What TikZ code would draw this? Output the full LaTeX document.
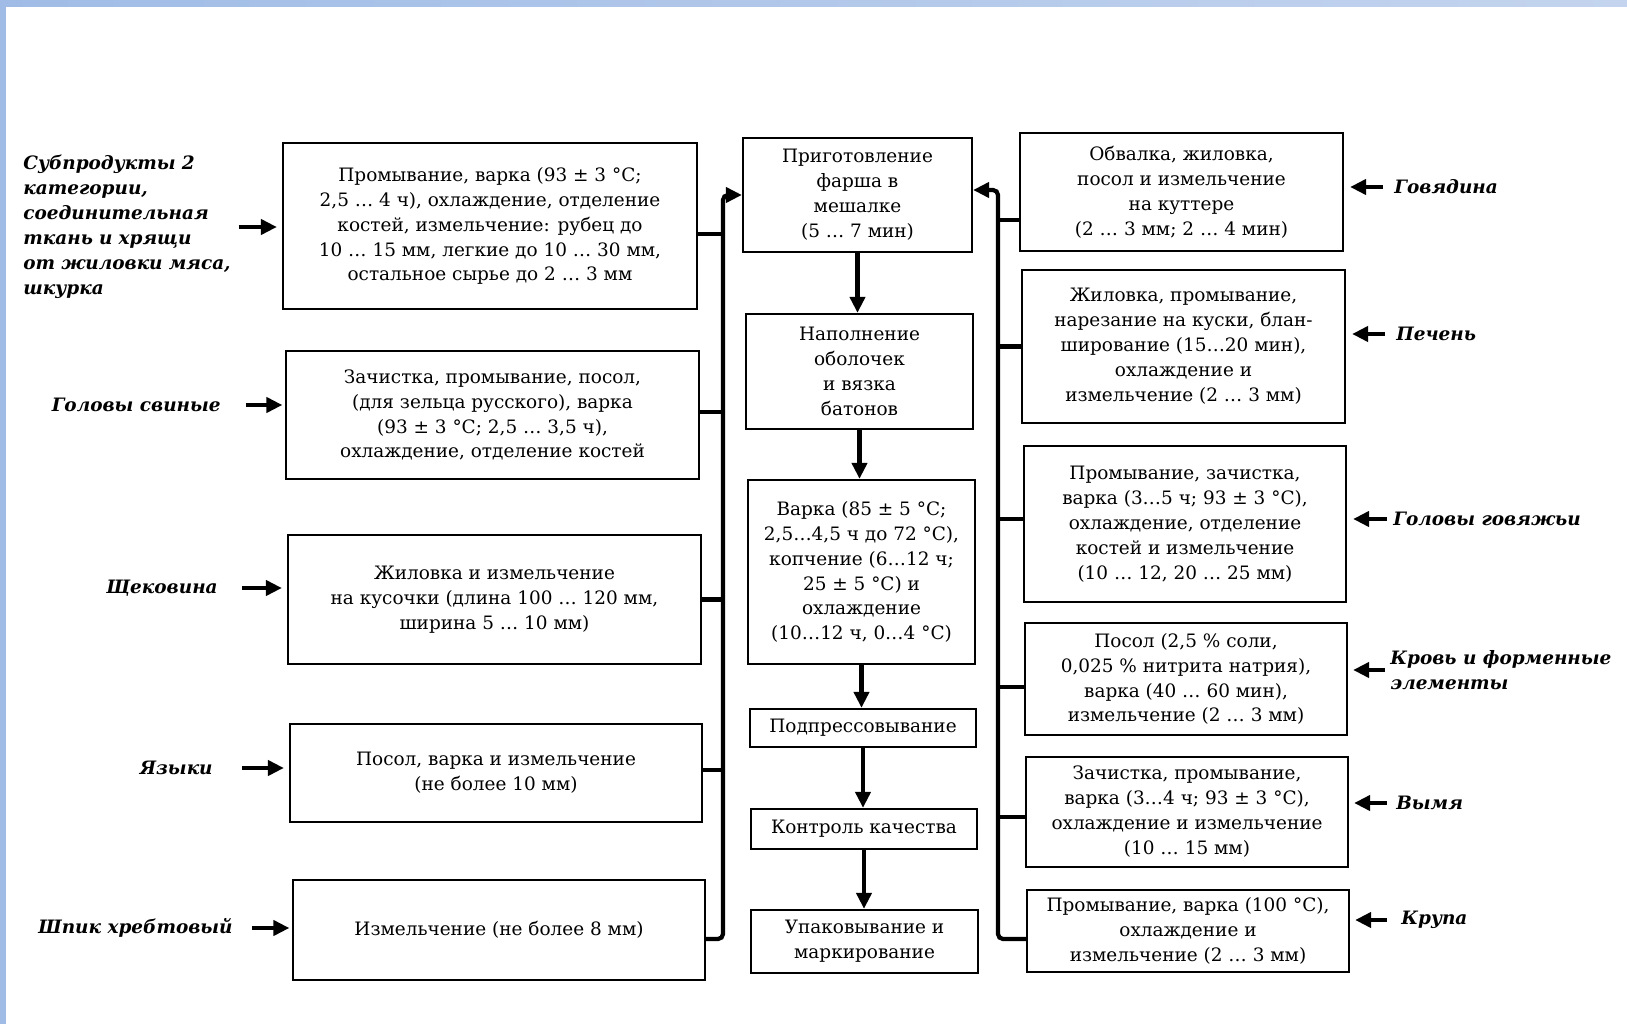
\documentclass[tikz,border=0pt]{standalone}
\usepackage{fontspec}
\setmainfont{DejaVu Serif}
\usetikzlibrary{arrows.meta}
\definecolor{frameblue}{RGB}{160,188,230}
\definecolor{frameblue2}{RGB}{196,212,238}

\begin{document}
\begin{tikzpicture}[x=0.02cm,y=-0.02cm,
box/.style={draw,line width=1.3pt,align=center,inner sep=2pt,font=\fontsize{10.5}{14.2}\selectfont},
src/.style={inner sep=0pt,font=\fontsize{10.5}{14.2}\selectfont\bfseries\itshape},
bus/.style={line width=2.4pt},
flow/.style={line width=2.4pt,-{Triangle[length=0.32cm,width=0.3cm]}},
]
\useasboundingbox (0,0) rectangle (1627,1024);
\fill[white] (0,0) rectangle (1627,1024);
\shade[left color=frameblue,right color=frameblue2] (0,0) rectangle (1627,7);
\fill[frameblue] (0,0) rectangle (6,1024);
\coordinate (lb) at (723,0);
\coordinate (rb) at (998,0);
\node[box,minimum width=8.28cm,minimum height=3.32cm] (L1) at (490,226) {Промывание, варка (93 ± 3 °С;\\2,5 … 4 ч), охлаждение, отделение\\костей, измельчение: рубец до\\10 … 15 мм, легкие до 10 … 30 мм,\\остальное сырье до 2 … 3 мм};
\node[box,minimum width=8.26cm,minimum height=2.56cm] (L2) at (492.5,415) {Зачистка, промывание, посол,\\(для зельца русского), варка\\(93 ± 3 °С; 2,5 … 3,5 ч),\\охлаждение, отделение костей};
\node[box,minimum width=8.26cm,minimum height=2.58cm] (L3) at (494.5,599.5) {Жиловка и измельчение\\на кусочки (длина 100 … 120 мм,\\ширина 5 … 10 мм)};
\node[box,minimum width=8.24cm,minimum height=1.96cm] (L4) at (496,773) {Посол, варка и измельчение\\(не более 10 мм)};
\node[box,minimum width=8.24cm,minimum height=2.0cm] (L5) at (499,930) {Измельчение (не более 8 мм)};
\node[box,minimum width=4.58cm,minimum height=2.28cm] (M1) at (857.5,195) {Приготовление\\фарша в\\мешалке\\(5 … 7 мин)};
\node[box,minimum width=4.54cm,minimum height=2.3cm] (M2) at (859.5,371.5) {Наполнение\\оболочек\\и вязка\\батонов};
\node[box,minimum width=4.54cm,minimum height=3.68cm] (M3) at (861.5,572) {Варка (85 ± 5 °С;\\2,5…4,5 ч до 72 °С),\\копчение (6…12 ч;\\25 ± 5 °С) и\\охлаждение\\(10…12 ч, 0…4 °С)};
\node[box,minimum width=4.52cm,minimum height=0.76cm] (M4) at (863,728) {Подпрессовывание};
\node[box,minimum width=4.52cm,minimum height=0.8cm] (M5) at (864,829) {Контроль качества};
\node[box,minimum width=4.54cm,minimum height=1.26cm] (M6) at (864.5,941.5) {Упаковывание и\\маркирование};
\node[box,minimum width=6.46cm,minimum height=2.36cm] (R1) at (1181.5,192) {Обвалка, жиловка,\\посол и измельчение\\на куттере\\(2 … 3 мм; 2 … 4 мин)};
\node[box,minimum width=6.46cm,minimum height=3.06cm] (R2) at (1183.5,346.5) {Жиловка, промывание,\\нарезание на куски, блан-\\ширование (15…20 мин),\\охлаждение и\\измельчение (2 … 3 мм)};
\node[box,minimum width=6.44cm,minimum height=3.12cm] (R3) at (1185,524) {Промывание, зачистка,\\варка (3…5 ч; 93 ± 3 °С),\\охлаждение, отделение\\костей и измельчение\\(10 … 12, 20 … 25 мм)};
\node[box,minimum width=6.44cm,minimum height=2.24cm] (R4) at (1186,679) {Посол (2,5 \% соли,\\0,025 \% нитрита натрия),\\варка (40 … 60 мин),\\измельчение (2 … 3 мм)};
\node[box,minimum width=6.44cm,minimum height=2.2cm] (R5) at (1187,812) {Зачистка, промывание,\\варка (3…4 ч; 93 ± 3 °С),\\охлаждение и измельчение\\(10 … 15 мм)};
\node[box,minimum width=6.44cm,minimum height=1.64cm] (R6) at (1188,931) {Промывание, варка (100 °С),\\охлаждение и\\измельчение (2 … 3 мм)};
\node[src,anchor=west,align=left,text width=4.3cm] (subpr) at (23,227) {Субпродукты 2\\категории,\\соединительная\\ткань и хрящи\\от жиловки мяса,\\шкурка};
\node[src,anchor=east] (golsvin) at (221,405) {Головы свиные};
\node[src,anchor=east] (shekov) at (218,588) {Щековина};
\node[src,anchor=east] (yazyki) at (213,768) {Языки};
\node[src,anchor=east] (shpik) at (233,928) {Шпик хребтовый};
\node[src,anchor=west] (govyad) at (1394,187) {Говядина};
\node[src,anchor=west] (pechen) at (1396,334) {Печень};
\node[src,anchor=west] (golgov) at (1393,519) {Головы говяжьи};
\node[src,anchor=west,align=left] (krov) at (1390,670) {Кровь и форменные\\элементы};
\node[src,anchor=west] (vymya) at (1396,803) {Вымя};
\node[src,anchor=west] (krupa) at (1401,920) {Крупа};
\draw[flow,shorten >=0.1cm] (subpr.east) -- (subpr.east -| L1.west);
\draw[flow,shorten <=0.5cm,shorten >=0.05cm] (golsvin.east) -- (golsvin.east -| L2.west);
\draw[flow,shorten <=0.48cm,shorten >=0.1cm] (shekov.east) -- (shekov.east -| L3.west);
\draw[flow,shorten <=0.58cm,shorten >=0.1cm] (yazyki.east) -- (yazyki.east -| L4.west);
\draw[flow,shorten <=0.38cm,shorten >=0.05cm] (shpik.east) -- (shpik.east -| L5.west);
\draw[flow,shorten <=0.22cm,shorten >=0.12cm] (govyad.west) -- (govyad.west -| R1.east);
\draw[flow,shorten <=0.22cm,shorten >=0.12cm] (pechen.west) -- (pechen.west -| R2.east);
\draw[flow,shorten <=0.12cm,shorten >=0.12cm] (golgov.west) -- (golgov.west -| R3.east);
\draw[flow,shorten <=0.1cm,shorten >=0.1cm] (krov.west) -- (krov.west -| R4.east);
\draw[flow,shorten <=0.18cm,shorten >=0.1cm] (vymya.west) -- (vymya.west -| R5.east);
\draw[flow,shorten <=0.28cm,shorten >=0.1cm] (krupa.west) -- (krupa.west -| R6.east);
\draw[bus] ([yshift=-0.16cm]L1.east) -- ([yshift=-0.16cm]L1.east -| lb);
\draw[bus] ([yshift=0.06cm]L2.east) -- ([yshift=0.06cm]L2.east -| lb);
\draw[bus] (L3.east) -- (L3.east -| lb);
\draw[bus] ([yshift=0.06cm]L4.east) -- ([yshift=0.06cm]L4.east -| lb);
\draw[flow,rounded corners=0.1cm] ([yshift=-0.18cm]L5.east) -- ([yshift=-0.18cm]L5.east -| lb) -- (M1.west -| lb) -- (M1.west);
\draw[bus] ([yshift=-0.56cm]R1.west) -- ([yshift=-0.56cm]R1.west -| rb);
\draw[bus] (R2.west) -- (R2.west -| rb);
\draw[bus] ([yshift=0.1cm]R3.west) -- ([yshift=0.1cm]R3.west -| rb);
\draw[bus] ([yshift=-0.16cm]R4.west) -- ([yshift=-0.16cm]R4.west -| rb);
\draw[bus] ([yshift=-0.1cm]R5.west) -- ([yshift=-0.1cm]R5.west -| rb);
\draw[flow,rounded corners=0.1cm] ([yshift=-0.16cm]R6.west) -- ([yshift=-0.16cm]R6.west -| rb) -- ([yshift=0.1cm]M1.east -| rb) -- ([yshift=0.1cm]M1.east);
\draw[flow] (M1.south) -- (M1.south |- M2.north);
\draw[flow] (M2.south) -- (M2.south |- M3.north);
\draw[flow] (M3.south) -- (M3.south |- M4.north);
\draw[flow] (M4.south) -- (M4.south |- M5.north);
\draw[flow] (M5.south) -- (M5.south |- M6.north);
\end{tikzpicture}
\end{document}
